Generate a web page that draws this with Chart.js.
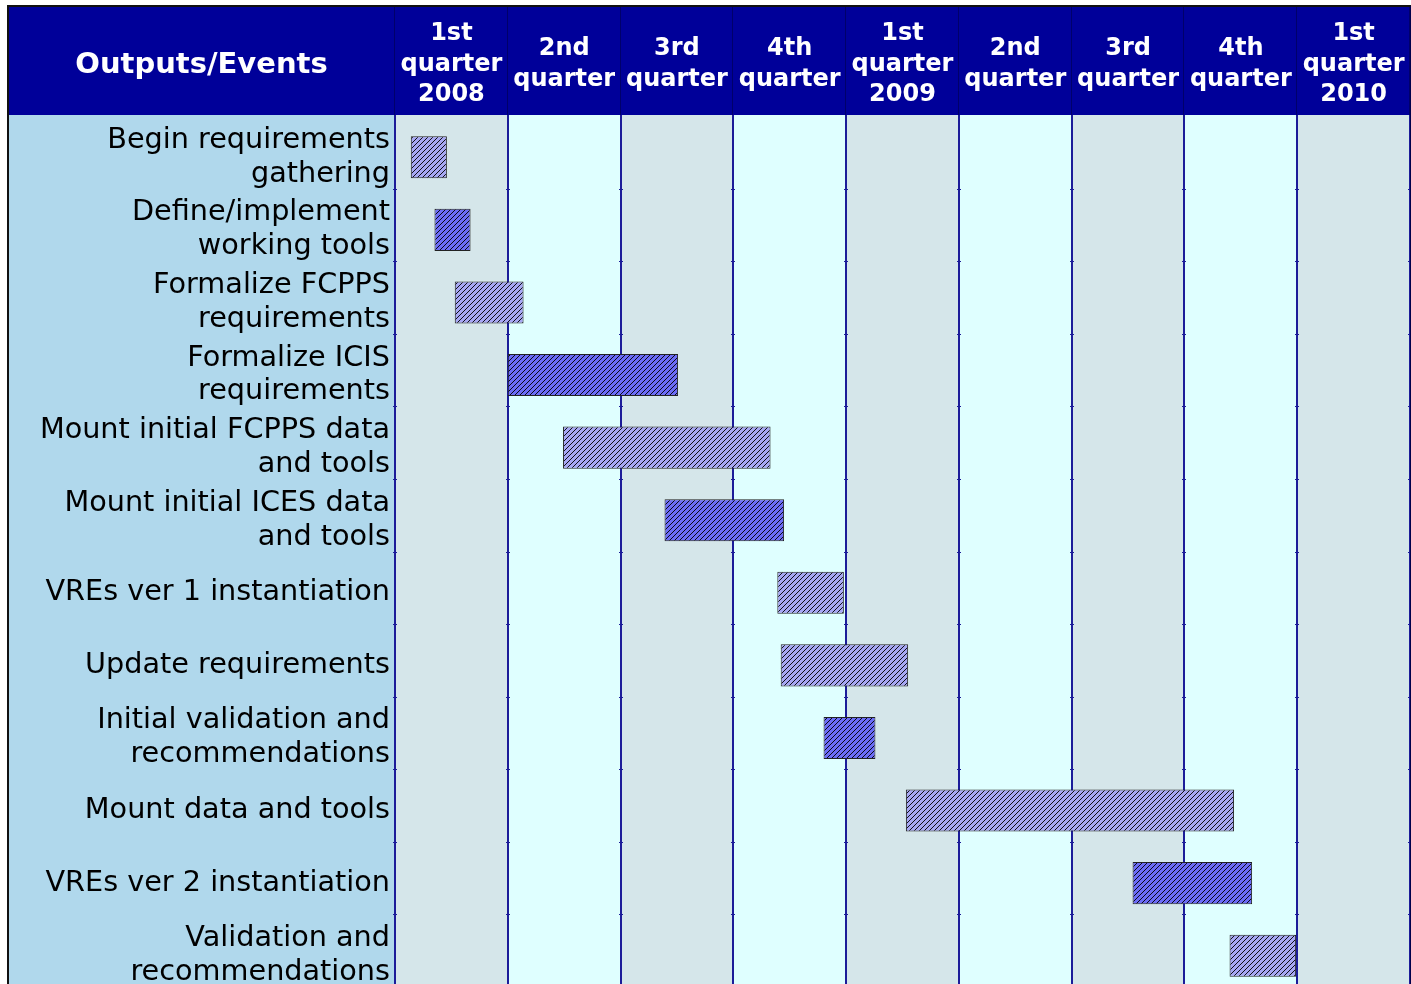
<!DOCTYPE html>
<html>
<head>
<meta charset="utf-8">
<title>Outputs/Events timeline</title>
<script src="https://cdn.jsdelivr.net/npm/chart.js@4/dist/chart.umd.min.js"></script>
<style>
  html, body { margin: 0; padding: 0; background: #fff; overflow: hidden; }
  #wrap { width: 1411px; height: 984px; overflow: hidden; }
</style>
</head>
<body>
<div id="wrap"><canvas id="gantt" width="1411" height="1000"></canvas></div>
<script>
// Rows (outputs / events), top to bottom
const tasks = [
    ['Begin requirements', 'gathering'],
    ['Define/implement', 'working tools'],
    ['Formalize FCPPS', 'requirements'],
    ['Formalize ICIS', 'requirements'],
    ['Mount initial FCPPS data', 'and tools'],
    ['Mount initial ICES data', 'and tools'],
    'VREs ver 1 instantiation',
    'Update requirements',
    ['Initial validation and', 'recommendations'],
    'Mount data and tools',
    'VREs ver 2 instantiation',
    ['Validation and', 'recommendations']
];

// Start / end of each task, in quarters counted from 1st quarter 2008
const starts = [0.14, 0.35, 0.53, 1.00, 1.49, 2.39, 3.39, 3.42, 3.80, 4.53, 6.54, 7.40];
const ends   = [0.46, 0.67, 1.14, 2.51, 3.33, 3.45, 3.98, 4.55, 4.26, 7.44, 7.60, 7.99];

// Column headings
const quarters = [
    ['1st', 'quarter', '2008'],
    ['2nd', 'quarter'],
    ['3rd', 'quarter'],
    ['4th', 'quarter'],
    ['1st', 'quarter', '2009'],
    ['2nd', 'quarter'],
    ['3rd', 'quarter'],
    ['4th', 'quarter'],
    ['1st', 'quarter', '2010']
];

// which hatch shade each bar gets
const shade = ['light', 'dark', 'light', 'dark', 'light', 'dark', 'light', 'light', 'dark', 'light', 'dark', 'light'];

function hatch(color) {
    const c = document.createElement('canvas');
    c.width = 5; c.height = 5;
    const g = c.getContext('2d');
    g.fillStyle = color;
    g.fillRect(0, 0, 5, 5);
    g.strokeStyle = 'rgba(0,0,0,0.9)';
    g.lineWidth = 1;
    g.beginPath();
    g.moveTo(-1, 6); g.lineTo(6, -1);
    g.moveTo(-1, 1); g.lineTo(1, -1);
    g.moveTo(4, 6); g.lineTo(6, 4);
    g.stroke();
    return g.createPattern(c, 'repeat');
}

const ctx = document.getElementById('gantt').getContext('2d');
const lightFill = hatch('#a7a7f3');
const darkFill = hatch('#6c6cf6');

const HEADER_TOP = 6, HEADER_BOTTOM = 115, LEFT = 8;

const tablePlugin = {
    id: 'table',
    beforeDraw(chart) {
        const c = chart.ctx;
        const xs = chart.scales.x;
        const ys = chart.scales.y;
        const area = chart.chartArea;
        const W = chart.width, H = chart.height;

        c.save();
        c.fillStyle = '#fff';
        c.fillRect(0, 0, W, H);

        // header band
        c.fillStyle = '#000099';
        c.fillRect(LEFT, HEADER_TOP, W - LEFT, HEADER_BOTTOM - HEADER_TOP);

        // label column
        c.fillStyle = '#b0d8ec';
        c.fillRect(LEFT, HEADER_BOTTOM, area.left - LEFT, H - HEADER_BOTTOM);

        // alternating quarter columns
        for (let i = 0; i < quarters.length; i++) {
            const x0 = xs.getPixelForValue(i), x1 = xs.getPixelForValue(i + 1);
            c.fillStyle = i % 2 === 0 ? '#d5e6ea' : '#dfffff';
            c.fillRect(x0, HEADER_BOTTOM, x1 - x0, H - HEADER_BOTTOM);
        }

        // column rules
        for (let i = 0; i <= quarters.length; i++) {
            const x = Math.round(xs.getPixelForValue(i));
            c.fillStyle = '#1c1c99';
            c.fillRect(x - 1, HEADER_BOTTOM, 2, H - HEADER_BOTTOM);
            c.fillStyle = '#00006a';
            c.fillRect(x - 1, HEADER_TOP, 1, HEADER_BOTTOM - HEADER_TOP);
            // small marks at row boundaries
            c.fillStyle = '#1c1c99';
            for (let r = 1; r < tasks.length; r++) {
                const y = Math.round((ys.getPixelForValue(r - 1) + ys.getPixelForValue(r)) / 2) - 5;
                c.fillRect(x - 2, y, 4, 1);
            }
        }

        // outer border
        c.fillStyle = '#111';
        c.fillRect(LEFT - 1, HEADER_TOP - 1, 2, H);
        c.fillRect(LEFT - 1, HEADER_TOP - 1, W, 2);
        c.fillStyle = '#00004a';
        c.fillRect(W - 1, HEADER_TOP, 1, H);

        // header texts
        c.fillStyle = '#fff';
        c.textAlign = 'center';
        c.textBaseline = 'middle';
        c.font = 'bold 29px "DejaVu Sans", Verdana, sans-serif';
        c.fillText('Outputs/Events', (LEFT + area.left) / 2, 65);

        c.font = 'bold 24px "DejaVu Sans", Verdana, sans-serif';
        const lh = 30.5, mid = 64.5;
        quarters.forEach((lines, i) => {
            const cx = xs.getPixelForValue(i + 0.5);
            const y0 = mid - (lines.length - 1) * lh / 2;
            lines.forEach((t, k) => c.fillText(t, cx, y0 + k * lh));
        });
        c.restore();
    }
};

new Chart(ctx, {
    type: 'bar',
    data: {
        labels: tasks,
        datasets: [{
            data: starts.map((s, i) => [s, ends[i]]),
            backgroundColor: shade.map(s => s === 'dark' ? darkFill : lightFill),
            borderColor: '#222',
            borderWidth: 1,
            borderSkipped: false,
            barPercentage: 0.58,
            categoryPercentage: 1
        }]
    },
    options: {
        indexAxis: 'y',
        responsive: false,
        animation: false,
        layout: {
            padding: { left: LEFT, top: 121, right: 1, bottom: 8 }
        },
        plugins: {
            legend: { display: false },
            tooltip: { enabled: false }
        },
        scales: {
            x: {
                type: 'linear',
                min: 0,
                max: quarters.length,
                display: false
            },
            y: {
                grid: { display: false, drawTicks: false, tickLength: 0 },
                border: { display: false },
                ticks: {
                    color: '#000',
                    padding: 5,
                    font: { family: '"DejaVu Sans", Verdana, sans-serif', size: 28.7, lineHeight: 1.18 }
                },
                afterFit(scale) {
                    scale.width = 387;
                    scale.paddingTop = 0;
                    scale.paddingBottom = 0;
                }
            }
        }
    },
    plugins: [tablePlugin]
});
</script>
</body>
</html>
